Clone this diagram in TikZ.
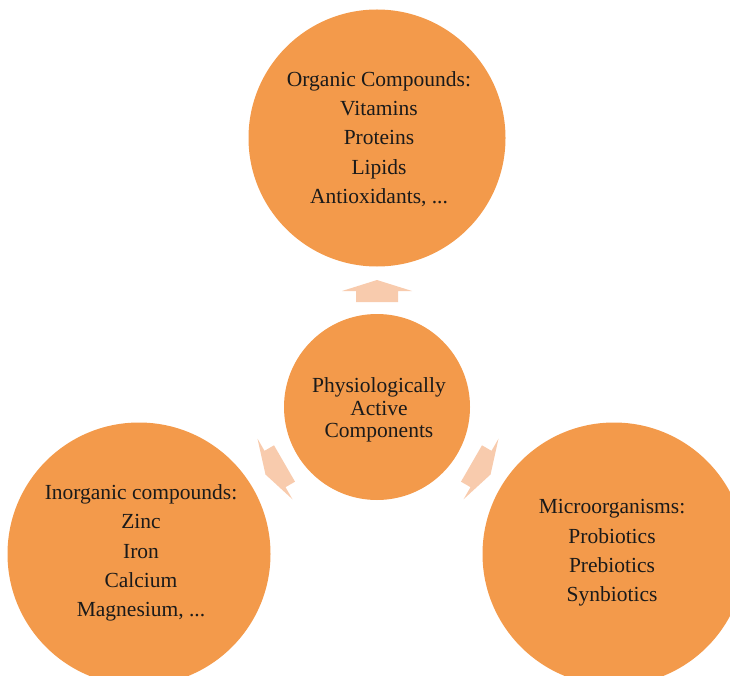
\documentclass[tikz,border=0pt]{standalone}
\usepackage{fontspec}
\setmainfont{Liberation Serif}
\definecolor{discfill}{HTML}{F39A4B}
\definecolor{arrowfill}{HTML}{F8CBAD}
\definecolor{inktext}{HTML}{1A1A1A}
\tikzset{
  disc/.style={circle, fill=discfill, draw=none, inner sep=0pt, minimum size=#1},
  disctext/.style={align=center, text=inktext, inner sep=0pt,
    font=\fontsize{21.5}{29.3}\selectfont},
  hubtext/.style={align=center, text=inktext, inner sep=0pt,
    font=\fontsize{21.5}{22.5}\selectfont},
  blockarrow/.pic={
    \fill[arrowfill] (0,-11) -- (35,0) -- (21,0) -- (21,11) -- (-21,11)
      -- (-21,0) -- (-35,0) -- cycle;
  }
}
\begin{document}
\begin{tikzpicture}[x=1pt, y=-1pt]
  \useasboundingbox (0,0) rectangle (730,676);
  \clip (0,0) rectangle (730,676);

  % hub and the three surrounding discs
  \node[disc=186pt] (hub) at (377,407) {};
  \node[disc=257pt] (top) at (377,138) {};
  \node[disc=263pt] (left) at (139,554) {};
  \node[disc=263pt] (right) at (614,554) {};

  % block arrows pointing outwards from the hub
  \pic at (377,291) {blockarrow};
  \pic[rotate=120] at (275,469) {blockarrow};
  \pic[rotate=-120] at (481,469) {blockarrow};

  % labels
  \node[hubtext] (hublabel) at (379,410) {Physiologically\\Active\\Components};
  \node[disctext] (toplabel) at (379,139) {Organic Compounds:\\Vitamins\\Proteins\\Lipids\\Antioxidants, ...};
  \node[disctext] (leftlabel) at (141,553) {Inorganic compounds:\\Zinc\\Iron\\Calcium\\Magnesium, ...};
  \node[disctext] (rightlabel) at (612,553) {Microorganisms:\\Probiotics\\Prebiotics\\Synbiotics};
\end{tikzpicture}
\end{document}
